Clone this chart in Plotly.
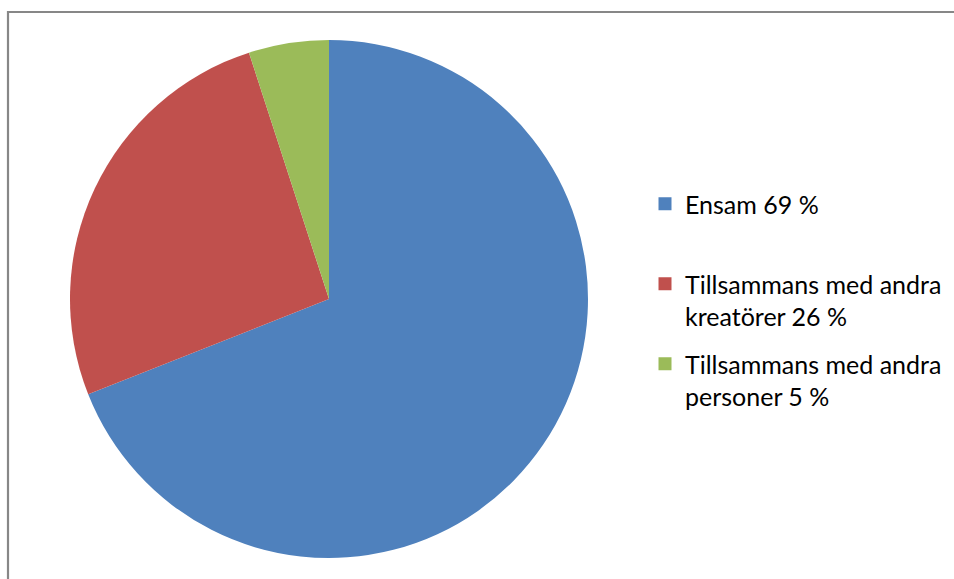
import plotly.graph_objects as go

labels = ["Ensam 69 %", "Tillsammans med andra kreatörer 26 %", "Tillsammans med andra personer 5 %"]
legend_text = ["Ensam 69 %<br> ", "Tillsammans med andra<br>kreatörer 26 %", "Tillsammans med andra<br>personer 5 %"]
values = [69, 26, 5]
colors = ["#4F81BD", "#C0504D", "#9BBB59"]

W, H = 954, 579

fig = go.Figure()
fig.add_trace(go.Pie(
    labels=labels,
    values=values,
    sort=False,
    direction="clockwise",
    rotation=0,
    marker=dict(colors=colors, line=dict(width=0)),
    textinfo="none",
    hoverinfo="label+percent",
    showlegend=False,
    domain=dict(x=[70 / W, 588 / W], y=[(H - 558) / H, (H - 40) / H]),
))

# legend entries (one group per slice so the group gap gives the spacing)
for lab, col in zip(legend_text, colors):
    fig.add_trace(go.Scatter(
        x=[None], y=[None], mode="markers", name=lab, legendgroup=lab,
        marker=dict(symbol="square", size=13, color=col),
        hoverinfo="skip",
    ))

fig.update_layout(
    width=W, height=H,
    margin=dict(l=0, r=0, t=0, b=0),
    paper_bgcolor="white",
    plot_bgcolor="white",
    showlegend=True,
    xaxis=dict(visible=False),
    yaxis=dict(visible=False),
    legend=dict(
        x=645 / W, xanchor="left",
        y=1 - 181 / H, yanchor="top",
        valign="top",
        tracegroupgap=12,
        font=dict(family="Lato, Open Sans, sans-serif", size=25, color="#000000"),
        bgcolor="rgba(0,0,0,0)",
    ),
    shapes=[dict(type="rect", xref="paper", yref="paper",
                 x0=8 / W, x1=1.05, y0=-0.05, y1=1 - 12 / H,
                 line=dict(color="#878787", width=2.2))],
)

fig.write_html("out.html", config={"displayModeBar": False},
               post_script="document.body.style.margin='0';")
